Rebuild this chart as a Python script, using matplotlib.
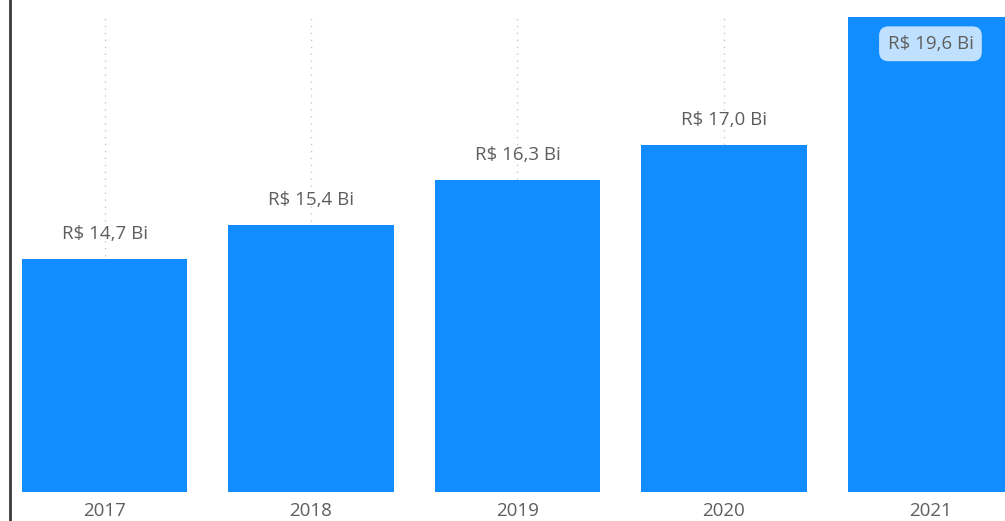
import matplotlib
matplotlib.use("Agg")
import matplotlib.pyplot as plt
from matplotlib.lines import Line2D

anos = ["2017", "2018", "2019", "2020", "2021"]
valores = [14.7, 15.4, 16.3, 17.0, 19.6]
rotulos = ["R$ 14,7 Bi", "R$ 15,4 Bi", "R$ 16,3 Bi", "R$ 17,0 Bi", "R$ 19,6 Bi"]

plt.rcParams['font.family'] = ['Open Sans', 'DejaVu Sans']

W, H = 1005, 521
fig = plt.figure(figsize=(W / 100, H / 100), dpi=100)
ax = fig.add_axes([9 / W, 29 / H, (W - 9) / W, (H - 29 - 13) / H])

x = list(range(len(anos)))
ax.bar(x, valores, width=0.8, color="#118DFF", zorder=2)
ax.set_xlim(-0.4625, 4.361)
ax.set_ylim(10, 10 + (H - 29 - 13) / 49.5)

ax.set_xticks(x)
ax.set_xticklabels(anos, fontsize=13.5, color="#605E5C")
ax.tick_params(axis="x", length=0, pad=7)
ax.set_yticks([])
ax.grid(axis="x", color="#C8C8C8", linestyle=(0, (1, 4)), linewidth=1, zorder=1)
for s in ax.spines.values():
    s.set_visible(False)

for i, (v, r) in enumerate(zip(valores, rotulos)):
    if i == len(valores) - 1:
        ax.annotate(r, (i, v), xytext=(0, -27), textcoords="offset pixels",
                    ha="center", va="center", fontsize=13.5, color="#605E5C",
                    bbox=dict(boxstyle="round,pad=0.45,rounding_size=0.5",
                              fc="#BFE0FF", ec="none"))
    else:
        ax.annotate(r, (i, v), xytext=(0, 25), textcoords="offset pixels",
                    ha="center", va="center", fontsize=13.5, color="#605E5C")

fig.add_artist(Line2D([9.5 / W, 9.5 / W], [0, 1], color="#3A3A3A", linewidth=2))

fig.savefig("out.png", dpi=100)
